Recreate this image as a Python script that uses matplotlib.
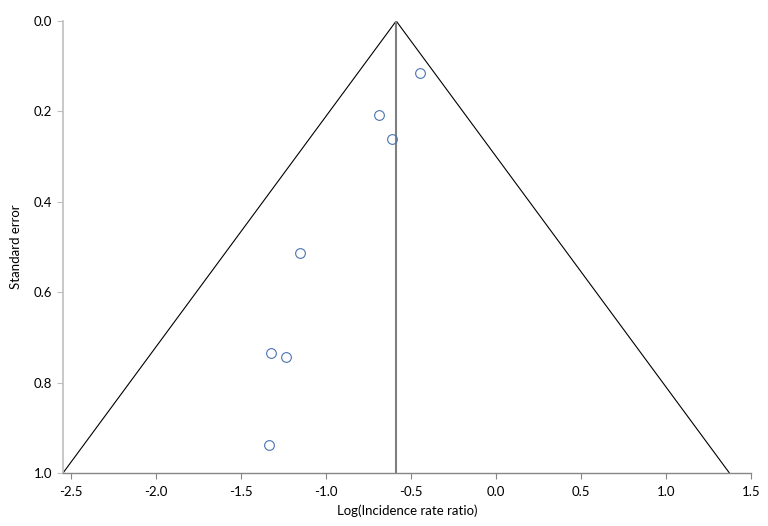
import numpy as np
import matplotlib
matplotlib.use('Agg')
import matplotlib.pyplot as plt

# 연구별 로그 발생률비와 표준오차
log_irr = [-0.447, -0.686, -0.614, -1.155, -1.325, -1.235, -1.337]
std_err = [0.114, 0.208, 0.260, 0.514, 0.734, 0.744, 0.939]

# 통합 추정치 (깔때기 중심)
pooled = -0.587
se_max = 1.0
x_ticks = [-2.5, -2.0, -1.5, -1.0, -0.5, 0.0, 0.5, 1.0, 1.5]
y_ticks = [0.0, 0.2, 0.4, 0.6, 0.8, 1.0]

plt.rcParams['font.family'] = ['Lato', 'DejaVu Sans']

fig = plt.figure(figsize=(7.68, 5.26), dpi=100)
ax = fig.add_axes([63 / 768, 1 - 473 / 526, (751 - 63) / 768, (473 - 21) / 526])

# 깔때기 (95% 신뢰한계)
se = np.array([0.0, se_max])
ax.plot(pooled - 1.96 * se, se, color='black', lw=0.8)
ax.plot(pooled + 1.96 * se, se, color='black', lw=0.8)
ax.plot([pooled, pooled], [0, se_max], color='#808080', lw=1.5)

ax.plot(log_irr, std_err, 'o', ms=7, mfc='none', mec='#4a72b0', mew=0.8)

ax.set_xlim(pooled - 1.96 * se_max, 1.5)
ax.set_ylim(1.0, 0.0)
ax.set_xticks(x_ticks)
ax.set_xticklabels([f'{v:.1f}' for v in x_ticks])
ax.set_yticks(y_ticks)
ax.set_yticklabels([f'{v:.1f}' for v in y_ticks])

for s in ['top', 'right']:
    ax.spines[s].set_visible(False)
ax.spines['left'].set_color('#bfbfbf')
ax.spines['bottom'].set_color('#868686')
ax.spines['left'].set_linewidth(1.2)
ax.spines['bottom'].set_linewidth(1.0)
ax.tick_params(axis='y', colors='#bfbfbf', length=4, labelcolor='black', labelsize=9.5, pad=4)
ax.tick_params(axis='x', colors='#868686', length=4, labelcolor='black', labelsize=9.5, pad=5)

ax.set_xlabel('Log(Incidence rate ratio)', fontsize=9.5, labelpad=5)
ax.set_ylabel('Standard error', fontsize=9.5, labelpad=8)

fig.savefig('out.png', dpi=100)
